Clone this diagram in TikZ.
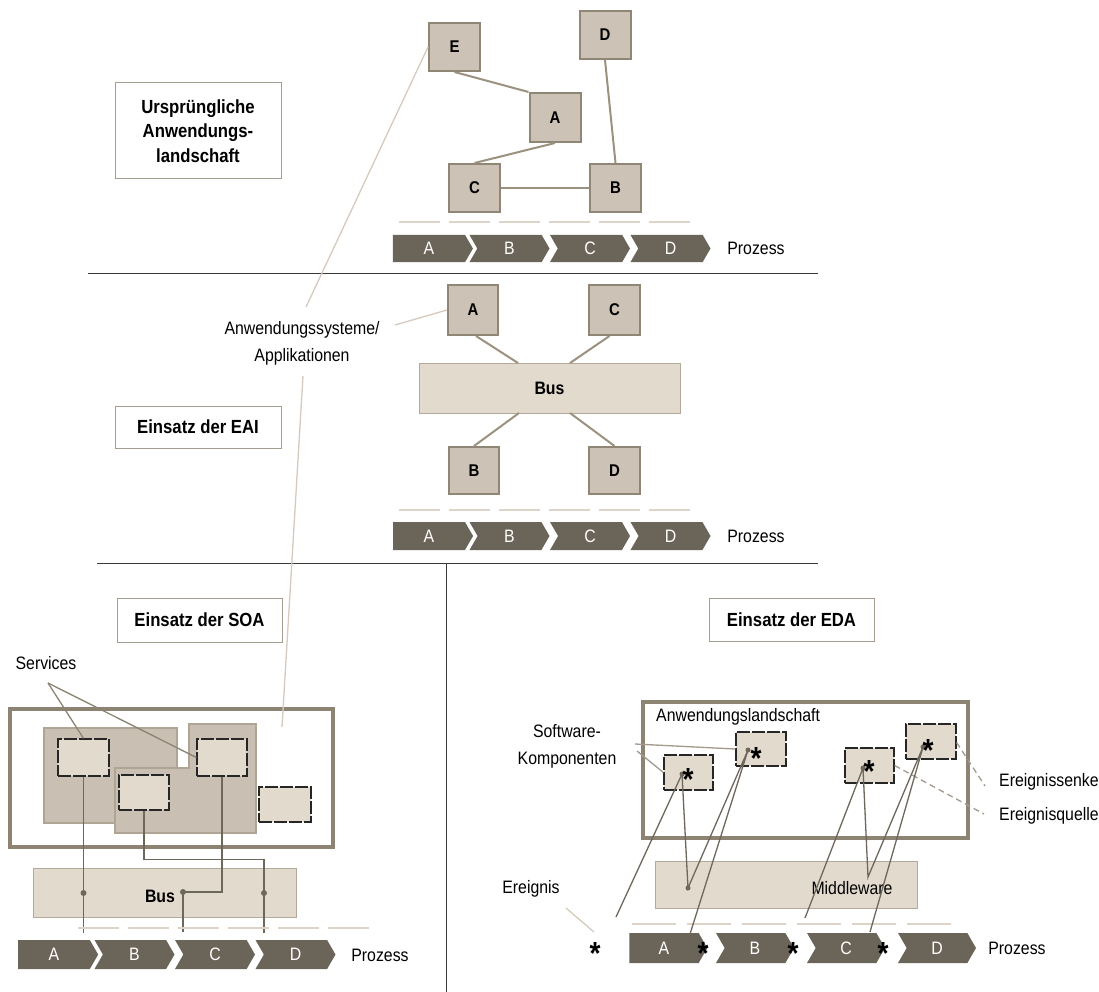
\documentclass[tikz,border=0pt]{standalone}
\usepackage{fontspec}
\setmainfont{Liberation Sans}[FakeStretch=0.88]
\usetikzlibrary{shapes.symbols}
\definecolor{sysfill}{HTML}{CCC2B5}
\definecolor{sysdraw}{HTML}{8F8676}
\definecolor{edgecol}{HTML}{9B917F}
\definecolor{chevcol}{HTML}{6B6559}
\definecolor{busfill}{HTML}{E3DACE}
\definecolor{busdraw}{HTML}{B4AA9B}
\definecolor{ttlborder}{HTML}{A59D90}
\definecolor{thinbeige}{HTML}{D5CABD}
\definecolor{sepcol}{HTML}{DDD3C7}
\definecolor{framecol}{HTML}{8C8373}
\definecolor{shapefill}{HTML}{C9BFB2}
\definecolor{shapedraw}{HTML}{AFA595}
\definecolor{wirecol}{HTML}{6E675C}
\definecolor{lblline}{HTML}{A39A8C}
\definecolor{rulecol}{HTML}{3A3A3A}
\begin{document}
\begin{tikzpicture}[x=1pt,y=-1pt,
  sys/.style={draw=sysdraw, fill=sysfill, line width=2pt, minimum width=51pt, minimum height=48pt,
    inner sep=0pt, font=\bfseries\fontsize{17}{20}\selectfont},
  edge/.style={draw=edgecol, line width=2pt},
  chev/.style={shape=signal, signal to=east, signal from=west, signal pointer angle=120,
    fill=chevcol, minimum width=80pt, minimum height=28pt, inner sep=0pt, text=white,
    font=\fontsize{18}{20}\selectfont},
  chevA/.style={chev, signal from=nowhere},
  sepline/.style={draw=sepcol, line width=1.2pt, dash pattern=on 41pt off 9pt},
  ttl/.style={draw=ttlborder, fill=white, line width=1pt, inner sep=0pt, align=center,
    font=\bfseries\fontsize{19}{24.5}\selectfont},
  lbl/.style={inner sep=0pt, align=center, font=\fontsize{18}{27}\selectfont},
  bus/.style={draw=busdraw, fill=busfill, line width=1pt, inner sep=0pt,
    font=\bfseries\fontsize{18}{20}\selectfont},
  rule/.style={draw=rulecol, line width=1pt},
  guide/.style={draw=thinbeige, line width=1.3pt},
  pointer/.style={draw=lblline, line width=1.3pt},
  frame/.style={draw=framecol, line width=4pt, fill=white, inner sep=0pt},
  svc/.style={draw=black!85, fill=busfill, line width=1.2pt, dash pattern=on 13pt off 2pt, inner sep=0pt},
  wire/.style={draw=wirecol, line width=1.3pt},
  dot/.style={circle, fill=wirecol, inner sep=0pt, minimum size=6pt},
  star/.style={inner sep=0pt, yshift=-4pt, font=\bfseries\fontsize{32}{32}\selectfont}
]
\useasboundingbox (0,0) rectangle (1099,992);

% ---------- section rules ----------
\draw[rule] (88,273) -- (818,273);
\draw[rule] (97,563) -- (818,563);
\draw[rule] (446,563) -- (446,992);

% ---------- original application landscape ----------
\node[ttl, minimum width=166pt, minimum height=96pt] (t1) at (198,131)
  {Ursprüngliche\\Anwendungs-\\landschaft};

\node[sys] (E) at (454.5,47) {E};
\node[sys] (D) at (605,35) {D};
\node[sys, minimum height=49pt] (A) at (555,117.5) {A};
\node[sys] (C) at (474.5,188) {C};
\node[sys] (B) at (615.5,188) {B};
\draw[edge] (E.south) -- (A.north west);
\draw[edge] (A.south) -- (C.north);
\draw[edge] (C.east) -- (B.west);
\draw[edge] (D.south) -- (B.north);

\draw[sepline] (399,222) -- (691,222);
\foreach \l/\s [count=\i from 0] in {A/chevA,B/chev,C/chev,D/chev}
  \node[\s, minimum height=27pt] (pa\l) at ({429+80.5*\i},248.5) {\l};
\node[lbl] (proz1) at (756,248) {Prozess};

% ---------- EAI ----------
\node[ttl, minimum width=166pt, minimum height=42pt] (t2) at (198,427) {Einsatz der EAI};

\node[sys, minimum width=50pt, minimum height=50pt] (A2) at (473,310) {A};
\node[sys, minimum width=51pt, minimum height=50pt] (C2) at (614.5,310) {C};
\node[bus, minimum width=261pt, minimum height=50pt] (bus2) at (549.5,388) {Bus};
\node[sys, minimum width=50pt, minimum height=47pt] (B2) at (474,470.5) {B};
\node[sys, minimum width=51pt, minimum height=47pt] (D2) at (614.5,470.5) {D};
\coordinate (b2a) at (518,363);
\coordinate (b2c) at (570,363);
\coordinate (b2b) at (519,413);
\coordinate (b2d) at (570,413);
\draw[edge] ([xshift=3pt]A2.south) -- (b2a);
\draw[edge] ([xshift=-5pt]C2.south) -- (b2c);
\draw[edge] (b2b) -- (B2.north);
\draw[edge] (b2d) -- (D2.north);

\draw[sepline] (399,510) -- (691,510);
\foreach \l/\s [count=\i from 0] in {A/chevA,B/chev,C/chev,D/chev}
  \node[\s] (pb\l) at ({429+80.5*\i},536) {\l};
\node[lbl] (proz2) at (756,536) {Prozess};

% ---------- SOA ----------
\node[ttl, minimum width=165pt, minimum height=44pt] (t3) at (199.5,620) {Einsatz der SOA};
\node[lbl] (services) at (46,663) {Services};

\node[frame, minimum width=323pt, minimum height=138pt] (soa) at (171.5,778) {};
\filldraw[fill=shapefill, draw=shapedraw, line width=1.5pt] (44,728) rectangle (177,823);
\filldraw[fill=shapefill, draw=shapedraw, line width=1.5pt]
  (115,768) -- (189,768) -- (189,724) -- (256,724) -- (256,833) -- (115,833) -- cycle;

\node[svc, minimum width=51pt, minimum height=37pt] (s1) at (83.5,757.5) {};
\node[svc, minimum width=50pt, minimum height=37pt] (s2) at (222,757.5) {};
\node[svc, minimum width=50pt, minimum height=35pt] (s3) at (144,792.5) {};
\node[svc, minimum width=52pt, minimum height=35pt] (s4) at (285,804.5) {};

\coordinate (sv) at (48,683);
\draw[pointer, draw=framecol] (sv) -- (s1.north);
\draw[pointer, draw=framecol] (sv) -- (s2.west);

\node[bus, minimum width=263pt, minimum height=49pt] (bus3) at (164.5,892.5) {};
\node[inner sep=0pt, font=\bfseries\fontsize{18}{20}\selectfont] (bus3lbl) at (160,896) {Bus};

\coordinate (sd1) at (83.5,893);
\coordinate (se1) at (83.5,933);
\coordinate (sd2) at (183,892);
\coordinate (se2) at (183,932);
\coordinate (sd3) at (264,893);
\coordinate (se3) at (264,933);
\draw[wire] (s1.south) -- (sd1) -- (se1);
\draw[wire] (s3.south) -- ++(0,49) -| (se3);
\draw[wire] (s2.south) |- (sd2) -- (se2);
\node[dot] at (sd1) {};
\node[dot] at (sd2) {};
\node[dot] at (sd3) {};

\draw[sepline] (78,928) -- (370,928);
\foreach \l/\s [count=\i from 0] in {A/chevA,B/chev,C/chev,D/chev}
  \node[\s, minimum height=29pt] (pc\l) at ({54+80.5*\i},954.5) {\l};
\node[lbl] (proz3) at (380,955) {Prozess};

% ---------- application label with its guide lines ----------
\node[lbl] (apps) at (302,343) {Anwendungssysteme/\\Applikationen};
\coordinate (aw1) at (306,307);
\coordinate (aw2) at (395,325);
\coordinate (aw3) at (303,376);
\coordinate (aw4) at (282,727);
\draw[guide] (aw1) -- (E.west);
\draw[guide] (aw2) -- (A2.west);
\draw[guide] (aw3) -- (aw4);

% ---------- EDA ----------
\node[ttl, minimum width=165pt, minimum height=43pt] (t4) at (791.5,619.5) {Einsatz der EDA};

\node[frame, minimum width=325pt, minimum height=136pt] (eda) at (805.5,770) {};
\node[lbl, anchor=west] (landsch) at (656,717) {Anwendungslandschaft};

\node[svc, minimum width=49pt, minimum height=35pt] (k1) at (688.5,772.5) {};
\node[svc, minimum width=50pt, minimum height=34pt] (k2) at (761,749) {};
\node[svc, minimum width=49pt, minimum height=35pt] (k3) at (869.5,765.5) {};
\node[svc, minimum width=50pt, minimum height=35pt] (k4) at (931,741.5) {};

\node[bus, minimum width=262pt, minimum height=47pt] (mw) at (786,884.5) {};
\node[lbl] (mwlbl) at (852,888) {Middleware};

\node[lbl] (swk) at (567,746) {Software-\\Komponenten};
\node[lbl] (ereignis) at (531,889) {Ereignis};
\node[lbl, anchor=west] (senke) at (999,782) {Ereignissenke};
\node[lbl, anchor=west] (quelle) at (999,816) {Ereignisquelle};

\coordinate (sw1) at (635,744);
\coordinate (sw2) at (637,751);
\draw[pointer] (sw1) -- (k2.west);
\draw[pointer] (sw2) -- (k1.west);

\coordinate (eg1) at (566,908);
\coordinate (eg2) at (594,932);
\draw[guide] (eg1) -- (eg2);

\coordinate (sk) at (985,786);
\coordinate (ql) at (984,814);
\draw[draw=lblline, line width=1.3pt, dash pattern=on 6pt off 4pt] ([yshift=-1pt]k4.east) -- (sk);
\draw[draw=lblline, line width=1.3pt, dash pattern=on 6pt off 4pt] (k3.east) -- (ql);

\draw[sepline, dash pattern=on 44pt off 11pt] (632,924) -- (952,924);
\foreach \l/\s [count=\i from 0] in {A/chevA,B/chev,C/chev,D/chev}
  \node[\s, minimum width=78pt, minimum height=30pt] (pd\l) at ({664+91*\i},948) {\l};
\node[lbl] (proz4) at (1017,948) {Prozess};

% event flow through the middleware
\coordinate (k1d) at (682,774);
\coordinate (k2d) at (748,750);
\coordinate (k3d) at (863,768);
\coordinate (k4d) at (923,747);
\coordinate (mwd) at (688,888);
\coordinate (vv) at (868,877);
\coordinate (ea1) at (616,917);
\coordinate (ea2) at (690,934);
\coordinate (ea3) at (805,918);
\coordinate (ea4) at (870,932);
\draw[wire] (ea1) -- (k1d) -- (mwd) -- (k2d) -- (ea2);
\draw[wire] (ea3) -- (k3d) -- (vv) -- (k4d) -- (ea4);
\foreach \p in {k1d,k2d,k3d,k4d,mwd}
  \node[dot, minimum size=5pt] at (\p) {};

% events
\node[star] (st1) at (688,775) {*};
\node[star] (st2) at (756,754) {*};
\node[star] (st3) at (869,767) {*};
\node[star] (st4) at (928,746) {*};
\node[star] (ev0) at (595,949) {*};
\node[star] (ev1) at (703,949) {*};
\node[star] (ev2) at (793,949) {*};
\node[star] (ev3) at (883,949) {*};
\end{tikzpicture}
\end{document}
